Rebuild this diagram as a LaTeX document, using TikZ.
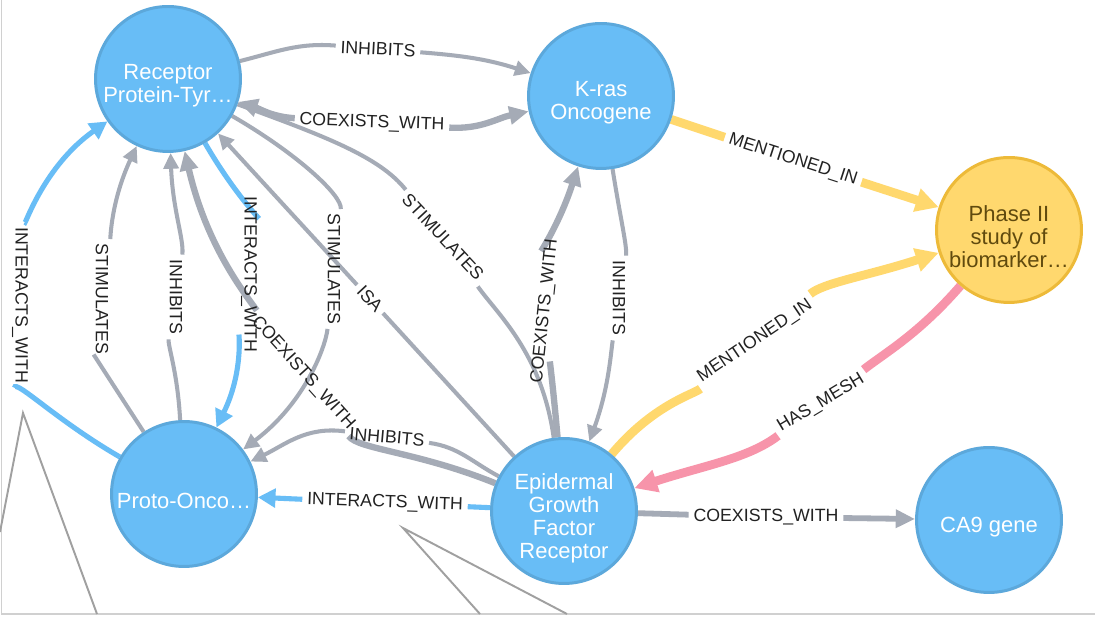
\documentclass[tikz,border=0pt]{standalone}
\usepackage{fontspec}
\setmainfont{Liberation Sans}
\usetikzlibrary{arrows.meta}
\definecolor{nodeblue}{HTML}{68BDF6}
\definecolor{nodeblueline}{HTML}{5CA8DB}
\definecolor{nodeyellow}{HTML}{FFD86E}
\definecolor{nodeyellowline}{HTML}{EDBA39}
\definecolor{relgray}{HTML}{A5ABB6}
\definecolor{relpink}{HTML}{F794AA}
\definecolor{labelink}{HTML}{222222}
\definecolor{studyink}{HTML}{604A0E}
\definecolor{framegray}{HTML}{D0D0D0}
\definecolor{sketchgray}{HTML}{A0A0A0}
\pgfdeclarelayer{edges}
\pgfsetlayers{edges,main}
\begin{document}
\begin{tikzpicture}[x=0.02cm,y=0.02cm,
  entity/.style={circle, minimum size=2.9cm, inner sep=0pt, line width=1.7pt,
    draw=nodeblueline, fill=nodeblue},
  study/.style={entity, draw=nodeyellowline, fill=nodeyellow},
  nodetext/.style={align=center, font=\fontsize{12.5}{13.1}\selectfont, text=white, yshift=-4pt},
  rellabel/.style={font=\fontsize{10.1}{11}\selectfont, text=labelink, inner xsep=2.6pt, inner ysep=1pt},
  rel/.style={draw=relgray, line width=2.3pt, -{Triangle[length=9pt,width=8.5pt]}},
  relplain/.style={draw=relgray, line width=2.3pt},
  relthick/.style={draw=relgray, line width=3.6pt, -{Triangle[length=11pt,width=10pt]}},
  relblue/.style={draw=nodeblue, line width=2.9pt, -{Triangle[length=10pt,width=10.5pt]}},
  relmention/.style={draw=nodeyellow, line width=5pt, -{Triangle[length=13pt,width=13pt]}},
  relmesh/.style={draw=relpink, line width=5pt, -{Triangle[length=13pt,width=12.5pt]}},
]
\useasboundingbox (0,0) rectangle (1095,617);

% entities
\node[entity, label={[nodetext]center:{Receptor\\Protein-Tyr…}}] (R) at (168,538) {};
\node[entity, label={[nodetext]center:{K-ras\\Oncogene}}] (K) at (601,521) {};
\node[study, label={[nodetext, text=studyink]center:{Phase II\\study of\\biomarker…}}] (P) at (1009,387) {};
\node[entity, label={[nodetext]center:{Proto-Onco…}}] (O) at (184,123) {};
\node[entity, label={[nodetext]center:{Epidermal\\Growth\\Factor\\Receptor}}] (E) at (564,106) {};
\node[entity, label={[nodetext]center:{CA9 gene}}] (C) at (989,97) {};

% relationship labels
\node[rellabel, rotate=-3]  (lRKi) at (378,568) {INHIBITS};
\node[rellabel, rotate=-2]  (lRKc) at (372,494) {COEXISTS\_WITH};
\node[rellabel, rotate=-90] (lORi) at (20,312)  {INTERACTS\_WITH};
\node[rellabel, rotate=-90] (lORs) at (102,318) {STIMULATES};
\node[rellabel, rotate=-90] (lORh) at (176,320) {INHIBITS};
\node[rellabel, rotate=-90] (lROi) at (249,343) {INTERACTS\_WITH};
\node[rellabel, rotate=-48] (lERc) at (303,244) {COEXISTS\_WITH};
\node[rellabel, rotate=-90] (lROs) at (334,348) {STIMULATES};
\node[rellabel, rotate=-47] (lERa) at (370,318) {ISA};
\node[rellabel, rotate=-47] (lREs) at (443,380) {STIMULATES};
\node[rellabel, rotate=-5]  (lEOh) at (387,180) {INHIBITS};
\node[rellabel, rotate=-2]  (lEOi) at (385,114) {INTERACTS\_WITH};
\node[rellabel, rotate=84]  (lEKc) at (545,306) {COEXISTS\_WITH};
\node[rellabel, rotate=-90] (lKEh) at (619,319) {INHIBITS};
\node[rellabel, rotate=-18] (lKPm) at (793,457) {MENTIONED\_IN};
\node[rellabel, rotate=34]  (lEPm) at (755,276) {MENTIONED\_IN};
\node[rellabel, rotate=31]  (lPEm) at (821,214) {HAS\_MESH};
\node[rellabel]             (lECc) at (766,100) {COEXISTS\_WITH};

\begin{pgfonlayer}{edges}
  \fill[white] (0,0) rectangle (1095,617);
  % frame of the canvas and stray strokes behind the graph
  \draw[framegray, line width=0.8pt] (1.5,617) -- (1.5,3) -- (1095,3);
  \draw[sketchgray, line width=1.1pt] (0,85) -- (23,204) -- (97,3);
  \draw[sketchgray, line width=1.1pt] (480,3) -- (403,89) -- (567,3);

  % relationships
  \draw[rel] (R) to[out=14,in=177] (lRKi) (lRKi) to[out=-3,in=162] (K);
  \draw[relthick] (lRKc) to[out=178,in=-18] (R);
  \draw[relthick] (lRKc) to[out=-2,in=192] (K);
  \draw[relblue] (O) to[out=150,in=-86] (lORi) (lORi) to[out=94,in=215] (R);
  \draw[rel] (O) to[out=123,in=-90] (lORs) (lORs) to[out=90,in=245] (R);
  \draw[rel] (O) to[out=93,in=-90] (lORh) (lORh) to[out=90,in=-88] (R);
  \draw[relblue] (R) to[out=-60,in=90] (lROi) (lROi) to[out=-90,in=64] (O);
  \draw[relthick] (E) to[out=158,in=-48] (lERc) (lERc) to[out=132,in=-77] (R);
  \draw[rel] (R) to[out=-30,in=90] (lROs) (lROs) to[out=-90,in=37] (O);
  \draw[rel] (E) -- (lERa) (lERa) -- (R);
  \draw[relplain] (R) to[out=-20,in=133] (lREs) (lREs) to[out=-50,in=98] (E);
  \draw[rel] (E) to[out=152,in=-5] (lEOh) (lEOh) to[out=175,in=26] (O);
  \draw[relblue] (E) -- (lEOi) (lEOi) -- (O);
  \draw[relthick] (E) to[out=95,in=-96] (lEKc) (lEKc) to[out=84,in=-108] (K);
  \draw[rel] (K) to[out=-81,in=90] (lKEh) (lKEh) to[out=-90,in=70] (E);
  \draw[relmention] (K) -- (lKPm) (lKPm) -- (P);
  \draw[relmention] (E) to[out=50,in=214] (lEPm) (lEPm) to[out=34,in=198] (P);
  \draw[relmesh] (P) to[out=229,in=31] (lPEm) (lPEm) to[out=211,in=18] (E);
  \draw[rel, line width=3.3pt, -{Triangle[length=11pt,width=10pt]}] (E) -- (lECc) (lECc) -- (C);
\end{pgfonlayer}
\end{tikzpicture}
\end{document}
